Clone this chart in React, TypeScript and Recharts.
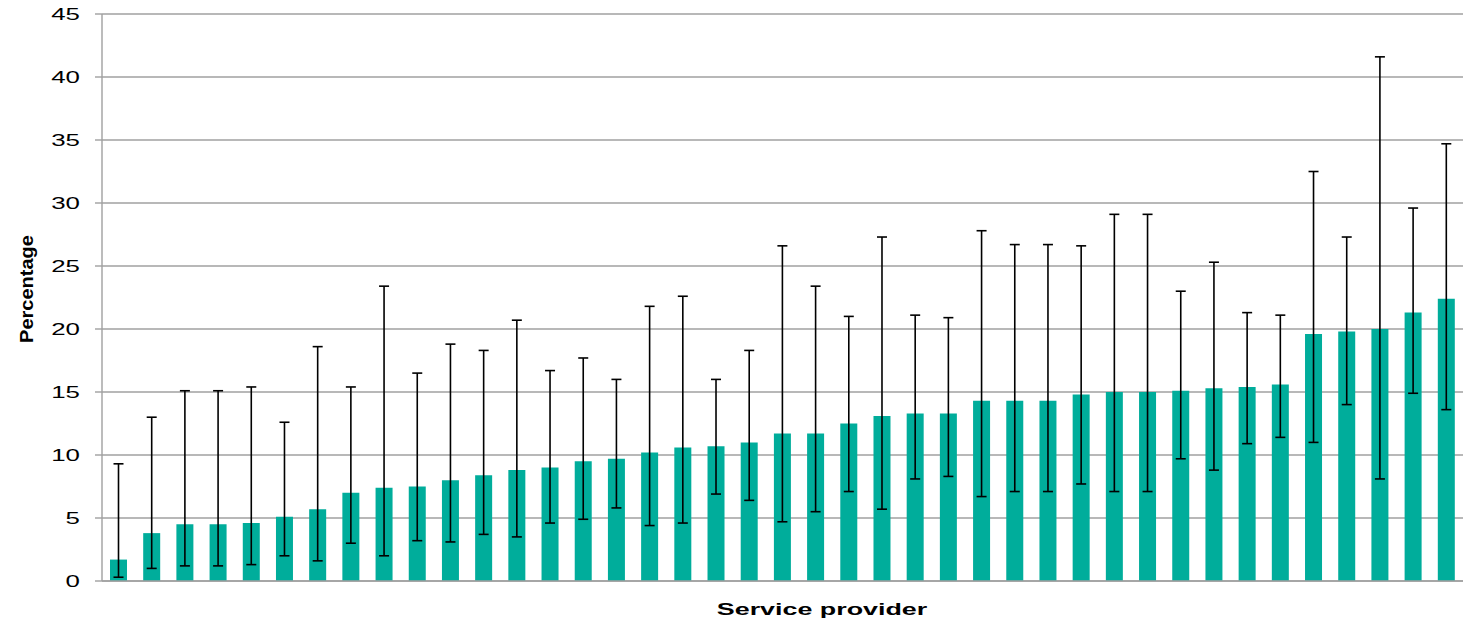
import React from 'react';
import { BarChart, Bar, XAxis, YAxis, CartesianGrid, ErrorBar } from 'recharts';

// Percentage per service provider, sorted ascending, with lower/upper bounds
const providers = Array.from({ length: 41 }, (_, i) => `SP${i + 1}`);

const percentages = [
  1.7, 3.8, 4.5, 4.5, 4.6, 5.1, 5.7, 7.0, 7.4, 7.5,
  8.0, 8.4, 8.8, 9.0, 9.5, 9.7, 10.2, 10.6, 10.7, 11.0,
  11.7, 11.7, 12.5, 13.1, 13.3, 13.3, 14.3, 14.3, 14.3, 14.8,
  15.0, 15.0, 15.1, 15.3, 15.4, 15.6, 19.6, 19.8, 20.0, 21.3,
  22.4,
];

const lowerBounds = [
  0.3, 1.0, 1.2, 1.2, 1.3, 2.0, 1.6, 3.0, 2.0, 3.2,
  3.1, 3.7, 3.5, 4.6, 4.9, 5.8, 4.4, 4.6, 6.9, 6.4,
  4.7, 5.5, 7.1, 5.7, 8.1, 8.3, 6.7, 7.1, 7.1, 7.7,
  7.1, 7.1, 9.7, 8.8, 10.9, 11.4, 11.0, 14.0, 8.1, 14.9,
  13.6,
];

const upperBounds = [
  9.3, 13.0, 15.1, 15.1, 15.4, 12.6, 18.6, 15.4, 23.4, 16.5,
  18.8, 18.3, 20.7, 16.7, 17.7, 16.0, 21.8, 22.6, 16.0, 18.3,
  26.6, 23.4, 21.0, 27.3, 21.1, 20.9, 27.8, 26.7, 26.7, 26.6,
  29.1, 29.1, 23.0, 25.3, 21.3, 21.1, 32.5, 27.3, 41.6, 29.6,
  34.7,
];

const yTicks = [0, 5, 10, 15, 20, 25, 30, 35, 40, 45];

const data = providers.map((name, i) => ({
  name,
  value: percentages[i],
  err: [percentages[i] - lowerBounds[i], upperBounds[i] - percentages[i]],
}));

const FONT = '"Liberation Sans", Arial, sans-serif';
const GRID = '#a0a0a0';

function YTick(props: any) {
  const { x, y, payload } = props;
  return (
    <text
      transform={`translate(${x}, ${y + 6}) scale(1.52, 1)`}
      textAnchor="end"
      fontFamily={FONT}
      fontSize={17}
      fill="#000"
    >
      {payload.value}
    </text>
  );
}

export default function App() {
  return (
    <div style={{ position: 'absolute', left: 0, top: 0, width: 1463, height: 621, background: '#fff' }}>
      <BarChart
        width={1463}
        height={621}
        data={data}
        margin={{ top: 14, right: 0, bottom: 0, left: 0 }}
      >
        <CartesianGrid vertical={false} stroke={GRID} strokeWidth={1.4} />
        <XAxis
          dataKey="name"
          tick={false}
          tickLine={false}
          height={40}
          axisLine={{ stroke: GRID, strokeWidth: 1.4 }}
        />
        <YAxis
          domain={[0, 45]}
          ticks={yTicks}
          width={102}
          interval={0}
          tick={<YTick />}
          tickSize={7}
          tickMargin={15}
          tickLine={{ stroke: GRID, strokeWidth: 1.4 }}
          axisLine={{ stroke: GRID, strokeWidth: 1.4 }}
        />
        <Bar dataKey="value" fill="#00ad9b" barSize={17} isAnimationActive={false}>
          <ErrorBar dataKey="err" width={5} stroke="#000" strokeWidth={1.6} direction="y" />
        </Bar>
      </BarChart>
      <svg
        width={1463}
        height={621}
        style={{ position: 'absolute', left: 0, top: 0, pointerEvents: 'none' }}
      >
        <text
          transform="translate(33, 289) rotate(-90) scale(1, 0.9)"
          textAnchor="middle"
          fontFamily={FONT}
          fontSize={20}
          fontWeight="bold"
          fill="#000"
        >
          Percentage
        </text>
        <text
          transform="translate(822, 615) scale(1.58, 1)"
          textAnchor="middle"
          fontFamily={FONT}
          fontSize={17}
          fontWeight="bold"
          fill="#000"
        >
          Service provider
        </text>
      </svg>
    </div>
  );
}
